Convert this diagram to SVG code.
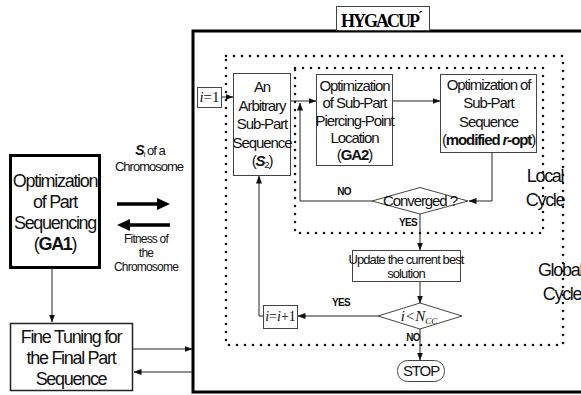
<svg xmlns="http://www.w3.org/2000/svg" width="581" height="395" viewBox="0 0 581 395">
<defs>
<marker id="ah" markerWidth="8" markerHeight="6" refX="7.5" refY="3" orient="auto" markerUnits="userSpaceOnUse"><path d="M0,0 L8,3 L0,6 z" fill="#111"/></marker>
<style>
.t{font-family:"Liberation Sans",Arial,sans-serif;fill:#111;text-anchor:middle}
.big{font-size:18px;letter-spacing:-1.3px}
.mid{font-size:15px;letter-spacing:-1.1px}
.lbl{font-size:13px;letter-spacing:-1px}
.fit{font-size:12px;letter-spacing:-0.8px}
.sm{font-size:13px;letter-spacing:-0.9px}
.lab{font-size:10px;font-weight:bold;letter-spacing:-0.7px}
.box{fill:#fff;stroke:#444;stroke-width:1}
.dot{fill:none;stroke:#111;stroke-width:2.6;stroke-linecap:round;stroke-dasharray:0 8}
.ln{fill:none;stroke:#222;stroke-width:1}
.serif{font-family:"Liberation Serif",serif}
</style>
</defs>
<rect width="581" height="395" fill="#fff"/>

<g id="hygacup-frame">
<rect x="193" y="31" width="395" height="361" fill="none" stroke="#000" stroke-width="3"/>
<rect x="336.5" y="6.5" width="93" height="24" fill="#fff" stroke="#444" stroke-width="1"/>
<text x="341" y="27" class="serif" font-size="18" font-weight="bold" letter-spacing="-2" fill="#000">HYGACUP<tspan dy="-6" font-size="15" letter-spacing="0">´</tspan></text>
</g>

<g id="global-cycle">
<rect x="226" y="56" width="337" height="289" class="dot"/>
<text x="560" y="276" class="t big">Global</text>
<text x="562" y="300" class="t big">Cycle</text>
</g>
<g id="local-cycle">
<rect x="295" y="68" width="248" height="165" class="dot"/>
<text x="545" y="182" class="t big">Local</text>
<text x="545" y="206" class="t big">Cycle</text>
</g>

<g id="ga1">
<rect x="10.5" y="155.5" width="89" height="112" fill="#fff" stroke="#000" stroke-width="3"/>
<text x="55" y="187" class="t big">Optimization</text>
<text x="55" y="208" class="t big">of Part</text>
<text x="55" y="229" class="t big">Sequencing</text>
<text x="55" y="250" class="t big">(<tspan font-weight="bold">GA1</tspan>)</text>
</g>

<g id="fine-tuning">
<rect x="10.5" y="323.5" width="122" height="67" fill="#fff" stroke="#222" stroke-width="1.5"/>
<text x="71" y="343" class="t big">Fine Tuning for</text>
<text x="71" y="364" class="t big">the Final Part</text>
<text x="71" y="385" class="t big">Sequence</text>
</g>

<g id="label-si">
<text x="150" y="155" class="t lbl"><tspan font-weight="bold" font-style="italic" font-size="14">S</tspan><tspan font-size="8" dy="2">i</tspan><tspan dy="-2"> of a</tspan></text>
<text x="149" y="171" class="t lbl">Chromosome</text>
</g>
<g id="label-fitness">
<text x="146" y="243" class="t fit">Fitness of</text>
<text x="146" y="257" class="t fit">the</text>
<text x="146" y="271" class="t fit">Chromosome</text>
</g>

<g id="i-init">
<rect x="197.5" y="87.5" width="24" height="20" class="box"/>
<text x="209.5" y="102" class="serif" font-size="15" text-anchor="middle" fill="#111"><tspan font-style="italic">i</tspan>=1</text>
</g>

<g id="s2">
<rect x="233.5" y="73.5" width="57" height="102" class="box"/>
<text x="262" y="92" class="t mid">An</text>
<text x="262" y="111" class="t mid">Arbitrary</text>
<text x="262" y="129" class="t mid">Sub-Part</text>
<text x="262" y="148" class="t mid">Sequence</text>
<text x="262" y="166" class="t mid">(<tspan font-weight="bold" font-style="italic">S</tspan><tspan font-size="9" dy="2">2</tspan><tspan dy="-2">)</tspan></text>
</g>

<g id="ga2">
<rect x="316.5" y="74.5" width="76" height="91" class="box"/>
<text x="354.5" y="91" class="t mid">Optimization</text>
<text x="354.5" y="108" class="t mid">of Sub-Part</text>
<text x="354.5" y="126" class="t mid">Piercing-Point</text>
<text x="354.5" y="143" class="t mid">Location</text>
<text x="354.5" y="160" class="t mid">(<tspan font-weight="bold">GA2</tspan>)</text>
</g>

<g id="ropt">
<rect x="440.5" y="74.5" width="96" height="78" class="box"/>
<text x="488.5" y="90" class="t mid">Optimization of</text>
<text x="488.5" y="108" class="t mid">Sub-Part</text>
<text x="488.5" y="127" class="t mid">Sequence</text>
<text x="488.5" y="145" class="t mid">(<tspan font-weight="bold">modified <tspan font-style="italic">r</tspan>-opt</tspan>)</text>
</g>

<g id="converged">
<polygon points="372,201 420,187.5 468,201 420,214" class="box"/>
<text x="420" y="206" class="t mid">Converged ?</text>
</g>

<g id="update">
<rect x="352.5" y="250.5" width="108" height="31" class="box"/>
<text x="406" y="264" class="t sm">Update the current best</text>
<text x="406" y="278" class="t sm">solution</text>
</g>

<g id="ncc">
<polygon points="378,316 420,303 462,316 420,329" class="box"/>
<text x="419" y="321" class="serif" font-size="15" font-style="italic" text-anchor="middle" fill="#111">i&lt;N<tspan font-size="9" dy="3">CC</tspan></text>
</g>

<g id="i-inc">
<rect x="263.5" y="305.5" width="34" height="23" class="box"/>
<text x="280.5" y="321" class="serif" font-size="14" text-anchor="middle" fill="#111"><tspan font-style="italic">i</tspan>=<tspan font-style="italic">i</tspan>+1</text>
</g>

<g id="stop">
<rect x="397.5" y="360.5" width="47" height="21" rx="10" class="box"/>
<text x="421" y="376" class="t mid">STOP</text>
</g>

<g id="labels">
<text x="344" y="195" class="t lab">NO</text>
<text x="408" y="226" class="t lab">YES</text>
<text x="341" y="306" class="t lab">YES</text>
<text x="413" y="341" class="t lab">NO</text>
</g>

<g id="connectors">
<line x1="52" y1="268" x2="52" y2="322" class="ln" stroke-width="1.5" marker-end="url(#ah)"/>
<line x1="117" y1="204" x2="160" y2="204" stroke="#000" stroke-width="3.5"/>
<polygon points="157,198 170,204 157,210" fill="#000"/>
<line x1="128" y1="225" x2="170" y2="225" stroke="#000" stroke-width="3.5"/>
<polygon points="130,219 117,225 130,231" fill="#000"/>
<line x1="133" y1="349" x2="192" y2="349" class="ln" stroke-width="1.5" marker-end="url(#ah)"/>
<line x1="192" y1="372" x2="134" y2="372" class="ln" stroke-width="1.5" marker-end="url(#ah)"/>
<line x1="222" y1="97" x2="233" y2="97" class="ln" marker-end="url(#ah)"/>
<line x1="291" y1="101" x2="316" y2="101" class="ln" marker-end="url(#ah)"/>
<line x1="393" y1="101" x2="440" y2="101" class="ln" marker-end="url(#ah)"/>
<polyline points="492,153 492,201 469,201" class="ln" marker-end="url(#ah)"/>
<polyline points="372,201 300,201 300,103" class="ln" marker-end="url(#ah)"/>
<line x1="420" y1="214" x2="420" y2="250" class="ln" marker-end="url(#ah)"/>
<line x1="420" y1="282" x2="420" y2="303" class="ln" marker-end="url(#ah)"/>
<line x1="378" y1="316" x2="298" y2="316" class="ln" marker-end="url(#ah)"/>
<polyline points="263,316 259,316 259,176" class="ln" marker-end="url(#ah)"/>
<line x1="420" y1="329" x2="420" y2="360" class="ln" marker-end="url(#ah)"/>
</g>
</svg>
